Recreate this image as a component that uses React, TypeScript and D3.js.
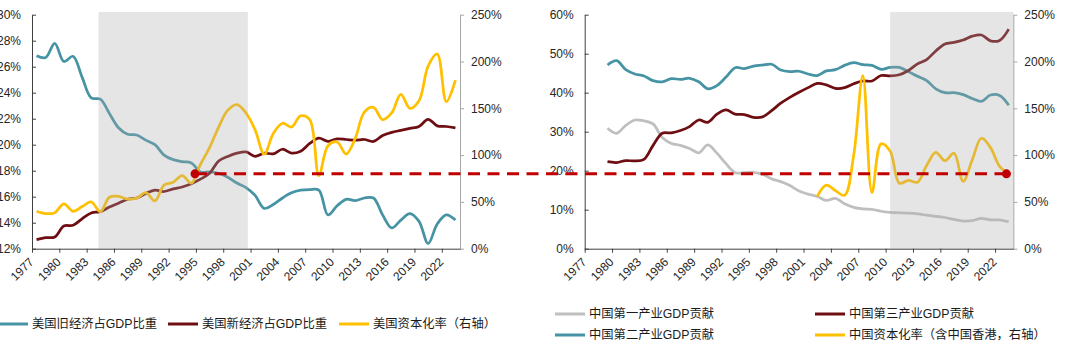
import { useEffect, useRef } from "react";
import * as d3 from "d3";

// US panel (1977-2023)
const usYears = [1977, 1978, 1979, 1980, 1981, 1982, 1983, 1984, 1985, 1986, 1987, 1988, 1989, 1990, 1991, 1992, 1993, 1994, 1995, 1996, 1997, 1998, 1999, 2000, 2001, 2002, 2003, 2004, 2005, 2006, 2007, 2008, 2009, 2010, 2011, 2012, 2013, 2014, 2015, 2016, 2017, 2018, 2019, 2020, 2021, 2022, 2023];
const usOld = [26.85, 26.7, 27.8, 26.4, 26.8, 25.2, 23.6, 23.5, 22.4, 21.3, 20.8, 20.75, 20.35, 20.0, 19.2, 18.85, 18.7, 18.6, 17.9, 17.9, 17.8, 17.5, 17.05, 16.7, 16.1, 15.1, 15.4, 15.9, 16.3, 16.5, 16.55, 16.5, 14.6, 15.3, 15.8, 15.7, 15.9, 15.9, 14.6, 13.6, 14.2, 14.7, 14.1, 12.4, 13.9, 14.6, 14.2];
const usNew = [12.7, 12.85, 12.9, 13.75, 13.8, 14.3, 14.75, 14.85, 15.2, 15.5, 15.8, 15.9, 16.25, 16.5, 16.4, 16.6, 16.75, 17.0, 17.35, 17.8, 18.75, 19.1, 19.35, 19.45, 19.1, 19.35, 19.3, 19.65, 19.35, 19.5, 20.1, 20.5, 20.25, 20.45, 20.4, 20.35, 20.4, 20.25, 20.7, 20.95, 21.1, 21.25, 21.4, 21.95, 21.45, 21.4, 21.3];
const usCap = [40, 37.5, 38.5, 48, 40, 45, 50, 39.5, 55, 56, 53, 54, 60, 51, 68, 71, 78, 70, 90, 108, 130, 148, 154, 145, 127, 101, 123, 134, 130, 142, 138, 78, 110, 114, 101, 118, 146, 151, 138, 145, 165, 150, 158, 195, 208, 157, 180];

// China panel
const cnYears = [1979, 1980, 1981, 1982, 1983, 1984, 1985, 1986, 1987, 1988, 1989, 1990, 1991, 1992, 1993, 1994, 1995, 1996, 1997, 1998, 1999, 2000, 2001, 2002, 2003, 2004, 2005, 2006, 2007, 2008, 2009, 2010, 2011, 2012, 2013, 2014, 2015, 2016, 2017, 2018, 2019, 2020, 2021, 2022, 2023];
const cnPrimary = [30.9, 29.6, 31.6, 33.0, 32.8, 32.0, 28.5, 27.0, 26.5, 25.7, 24.6, 26.6, 24.5, 21.8, 19.5, 19.5, 19.6, 19.1, 17.9, 17.2, 16.2, 14.8, 14.0, 13.4, 12.4, 12.9, 11.5, 10.6, 10.2, 10.1, 9.6, 9.3, 9.2, 9.1, 8.9, 8.6, 8.3, 8.0, 7.5, 7.1, 7.2, 7.8, 7.4, 7.4, 6.9];
const cnSecondary = [47.1, 48.2, 45.9, 44.8, 44.3, 43.1, 42.8, 43.6, 43.4, 43.7, 42.8, 41.0, 41.8, 44.0, 46.4, 46.2, 46.8, 47.1, 47.3, 45.8, 45.4, 45.5, 44.8, 44.4, 45.6, 45.9, 47.0, 47.7, 47.2, 47.0, 46.0, 46.5, 46.5, 45.4, 44.2, 43.1, 41.0, 40.0, 40.0, 39.5, 38.5, 37.8, 39.4, 39.3, 36.8];
const cnTertiary = [22.3, 22.1, 22.6, 22.5, 22.9, 26.5, 29.6, 29.7, 30.3, 31.3, 33.0, 32.4, 34.5, 35.6, 34.5, 34.4, 33.7, 33.8, 35.4, 37.3, 38.8, 40.1, 41.3, 42.4, 42.0, 41.1, 41.3, 42.3, 43.0, 43.0, 44.4, 44.3, 44.6, 45.7, 47.4, 48.5, 50.7, 52.5, 52.9, 53.5, 54.5, 54.8, 53.3, 53.4, 56.3];
const cnCapYears = [2002, 2003, 2004, 2005, 2006, 2007, 2008, 2009, 2010, 2011, 2012, 2013, 2014, 2015, 2016, 2017, 2018, 2019, 2020, 2021, 2022, 2023];
const cnCap = [56, 68, 62, 57, 100, 185, 60, 112, 104, 70, 73, 71, 89, 103, 94, 102, 72, 95, 118, 108, 88, 80];

// axes
const xTickYears = [1977, 1980, 1983, 1986, 1989, 1992, 1995, 1998, 2001, 2004, 2007, 2010, 2013, 2016, 2019, 2022];
const usLeftTicks = [12, 14, 16, 18, 20, 22, 24, 26, 28, 30];
const cnLeftTicks = [0, 10, 20, 30, 40, 50, 60];
const rightTicks = [0, 50, 100, 150, 200, 250];

// highlighted periods and markers
const usShade = [1983.8, 2000.2];
const cnShade = [2010, 2023.5];
const markLeft = { year: 1994.4, value: 80 };
const markRight = { year: 2022.75, value: 80 };

const TEAL = "#4593a3";
const BROWN = "#6e0e12";
const GOLD = "#ffc000";
const GREY = "#bfbfbf";
const RED = "#c00000";
const FONT = "'Liberation Sans', Arial, 'Noto Sans CJK SC', sans-serif";

const TOP = 14.7;
const BOTTOM = 248.7;

type Series = { years: number[]; values: number[]; color: string; right?: boolean };

function drawPanel(
  svg: d3.Selection<SVGSVGElement, unknown, null, undefined>,
  x0: number,
  x1: number,
  leftTicks: number[],
  shade: number[],
  series: Series[]
) {
  const x = d3.scaleLinear().domain([1976.5, 2023.5]).range([x0, x1]);
  const yL = d3
    .scaleLinear()
    .domain([leftTicks[0], leftTicks[leftTicks.length - 1]])
    .range([BOTTOM, TOP]);
  const yR = d3.scaleLinear().domain([0, 250]).range([BOTTOM, TOP]);

  const g = svg.append("g");

  // lines
  series.forEach((s) => {
    const y = s.right ? yR : yL;
    const line = d3
      .line<number>()
      .x((d, i) => x(s.years[i]))
      .y((d) => y(d))
      .curve(d3.curveCatmullRom.alpha(0.5));
    g.append("path")
      .attr("d", line(s.values))
      .attr("fill", "none")
      .attr("stroke", s.color)
      .attr("stroke-width", 2.75)
      .attr("stroke-linejoin", "round");
  });

  // grey band drawn over the lines (that is why they look faded inside it)
  g.append("rect")
    .attr("x", x(shade[0]))
    .attr("y", 12)
    .attr("width", x(shade[1]) - x(shade[0]))
    .attr("height", BOTTOM - 12)
    .attr("fill", "#ababab")
    .attr("opacity", 0.31);

  // left axis
  const left = g
    .append("g")
    .attr("transform", `translate(${x0},0)`)
    .call(
      d3
        .axisLeft(yL)
        .tickValues(leftTicks)
        .tickSizeInner(-4)
        .tickSizeOuter(0)
        .tickPadding(11)
        .tickFormat((d) => d + "%")
    );
  left.select(".domain").attr("stroke", "#404040");
  left.selectAll(".tick line").attr("stroke", "#404040");

  // right axis
  const right = g
    .append("g")
    .attr("transform", `translate(${x1},0)`)
    .call(
      d3
        .axisRight(yR)
        .tickValues(rightTicks)
        .tickSizeInner(4)
        .tickSizeOuter(0)
        .tickPadding(7)
        .tickFormat((d) => d + "%")
    );
  right.select(".domain").attr("stroke", "#a6a6a6");
  right.selectAll(".tick line").attr("stroke", "#a6a6a6");

  // bottom axis
  const bottom = g
    .append("g")
    .attr("transform", `translate(0,${BOTTOM})`)
    .call(
      d3
        .axisBottom(x)
        .tickValues(xTickYears.map((d) => d - 0.5))
        .tickSizeInner(4)
        .tickSizeOuter(0)
        .tickFormat((d) => String(+d + 0.5))
    );
  bottom.select(".domain").attr("stroke", "#404040");
  bottom.selectAll(".tick line").attr("stroke", "#404040");
  bottom
    .selectAll(".tick text")
    .attr("x", 0)
    .attr("y", 0)
    .attr("dy", "0.35em")
    .attr("text-anchor", "end")
    .attr("transform", "translate(-1,11) rotate(-45)");

  g.selectAll(".tick text")
    .attr("font-family", FONT)
    .attr("font-size", 12)
    .attr("fill", "#262626");

  return { x, yR };
}

function legendItem(
  svg: d3.Selection<SVGSVGElement, unknown, null, undefined>,
  lx: number,
  y: number,
  color: string,
  label: string
) {
  svg
    .append("line")
    .attr("x1", lx)
    .attr("x2", lx + 30)
    .attr("y1", y)
    .attr("y2", y)
    .attr("stroke", color)
    .attr("stroke-width", 3);
  svg
    .append("text")
    .attr("x", lx + 34)
    .attr("y", y)
    .attr("dy", "0.36em")
    .attr("font-family", FONT)
    .attr("font-size", 12.3)
    .attr("fill", "#1a1a1a")
    .text(label);
}

export default function App() {
  const svgRef = useRef<SVGSVGElement>(null);

  useEffect(() => {
    const svg = d3.select(svgRef.current!);
    svg.selectAll("*").remove();

    const us = drawPanel(svg, 32, 460, usLeftTicks, usShade, [
      { years: usYears, values: usOld, color: TEAL },
      { years: usYears, values: usNew, color: BROWN },
      { years: usYears, values: usCap, color: GOLD, right: true },
    ]);

    const cn = drawPanel(svg, 584.7, 1013.3, cnLeftTicks, cnShade, [
      { years: cnYears, values: cnPrimary, color: GREY },
      { years: cnYears, values: cnSecondary, color: TEAL },
      { years: cnYears, values: cnTertiary, color: BROWN },
      { years: cnCapYears, values: cnCap, color: GOLD, right: true },
    ]);

    // dashed reference line linking the two markers
    const ly = us.yR(markLeft.value);
    svg
      .append("line")
      .attr("x1", us.x(markLeft.year))
      .attr("x2", cn.x(markRight.year))
      .attr("y1", ly)
      .attr("y2", cn.yR(markRight.value))
      .attr("stroke", RED)
      .attr("stroke-width", 3)
      .attr("stroke-dasharray", "12 7.5");

    svg
      .append("circle")
      .attr("cx", us.x(markLeft.year))
      .attr("cy", ly)
      .attr("r", 4.5)
      .attr("fill", RED);
    svg
      .append("circle")
      .attr("cx", cn.x(markRight.year))
      .attr("cy", cn.yR(markRight.value))
      .attr("r", 4.5)
      .attr("fill", RED);

    // legends
    legendItem(svg, -2, 324, TEAL, "美国旧经济占GDP比重");
    legendItem(svg, 168, 324, BROWN, "美国新经济占GDP比重");
    legendItem(svg, 339, 324, GOLD, "美国资本化率（右轴）");

    legendItem(svg, 555, 314, GREY, "中国第一产业GDP贡献");
    legendItem(svg, 815, 314, BROWN, "中国第三产业GDP贡献");
    legendItem(svg, 555, 335, TEAL, "中国第二产业GDP贡献");
    legendItem(svg, 815, 335, GOLD, "中国资本化率（含中国香港，右轴）");
  }, []);

  return (
    <svg
      ref={svgRef}
      width={1080}
      height={352}
      style={{ position: "absolute", left: 0, top: 0, background: "#fff" }}
    />
  );
}
